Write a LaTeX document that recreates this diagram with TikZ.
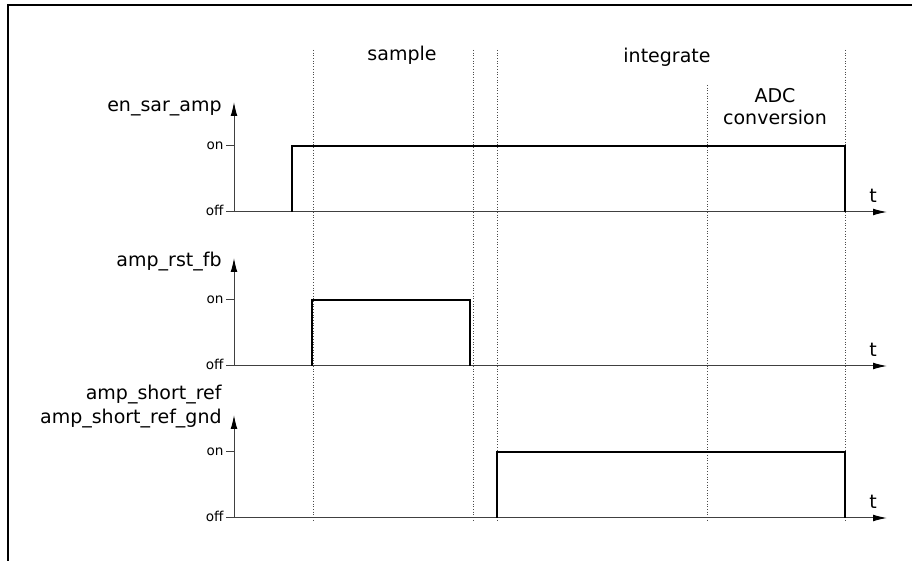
\documentclass[tikz,border=0pt]{standalone}
\usepackage{fontspec}
\setmainfont{DejaVu Sans}
\usetikzlibrary{arrows.meta, positioning}

\begin{document}
\begin{tikzpicture}[
    x=0.5pt, y=-0.5pt,
    signame/.style={anchor=east, inner sep=0pt, align=right, font=\fontsize{9.5}{12}\selectfont},
    level/.style={anchor=east, inner sep=1pt, font=\fontsize{6.8}{8}\selectfont},
    phase/.style={inner sep=0pt, align=center, font=\fontsize{9.5}{11}\selectfont},
    timelabel/.style={inner sep=0pt, font=\fontsize{9.5}{11}\selectfont},
    axis/.style={line width=0.5pt, black!75, -{Latex[length=7pt,width=3.4pt,color=black]}},
    tickmark/.style={line width=0.5pt, black!75},
    wave/.style={line width=1pt, line join=miter},
    marker/.style={densely dotted, line width=0.35pt, black!70}
]
    \useasboundingbox (0,0) rectangle (912,561);
    \draw [line width=0.6pt] (912,5) -- (8,5) -- (8,561);

    % phase markers
    \foreach \name/\xpos/\ytop in {ma/313/50, mb/473/50, mc/497/50, md/707/85, me/845/50} {
        \coordinate (\name top) at (\xpos,\ytop);
        \coordinate (\name bot) at (\xpos,520);
        \draw [marker] (\name top) -- (\name bot);
    }
    \node (sample) [phase] at (402,55) {sample};
    \node (integrate) [phase] at (667,57) {integrate};
    \node (adc) [phase] at (775,107) {ADC\\conversion};

    % axes
    \foreach \ch/\off/\on/\tip in {a/212/146/102, b/366/300/258, c/518/452/415} {
        \coordinate (\ch o) at (234,\off);
        \coordinate (\ch lvl) at (234,\on);
        \coordinate (\ch y) at (234,\tip);
        \coordinate (\ch t) at (887,\off);
        \draw [axis] (\ch o) -- (\ch y);
        \draw [axis] (\ch o) -- (\ch t);
        \node (\ch off) [level] at (226,\off-2) {off};
        \node (\ch on) [level] at (226,\on) {on};
        \draw [tickmark] (226,\off) -- (\ch o);
        \draw [tickmark] (\ch on.east) -- (\ch lvl);
        \node (\ch time) [timelabel] at (873,\off-16) {t};
    }

    \node (enamp) [signame] at (222,108) {en\_sar\_amp};
    \node (rstfb) [signame] at (222,262) {amp\_rst\_fb};
    \node (shortref) [signame] at (222,407) {amp\_short\_ref\\amp\_short\_ref\_gnd};

    % waveforms
    \draw [wave] (292,212) -- (292,146) -- (845,146) -- (845,212);
    \draw [wave] (312,366) -- (312,300) -- (470,300) -- (470,366);
    \draw [wave] (497,518) -- (497,452) -- (845,452) -- (845,518);
\end{tikzpicture}
\end{document}
